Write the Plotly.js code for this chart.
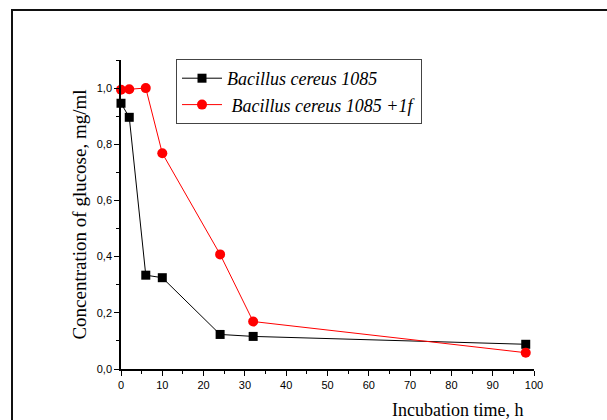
<!DOCTYPE html>
<html><head><meta charset="utf-8">
<script src="https://cdn.plot.ly/plotly-3.0.1.min.js"></script>
<style>html,body{margin:0;padding:0;background:#fff}#chart{width:607px;height:420px}</style>
</head><body><div id="chart"></div>
<script>
const timeA = [0, 2, 6, 10, 24, 32, 98];
const glucoseA = [0.946, 0.896, 0.334, 0.325, 0.123, 0.116, 0.088];
const timeB = [0, 2, 6, 10, 24, 32, 98];
const glucoseB = [0.994, 0.996, 1.0, 0.768, 0.408, 0.169, 0.058];
const nameA = 'Bacillus cereus 1085';
const nameB = ' Bacillus cereus 1085 +1f';
const xTitle = 'Incubation time, h';
const yTitle = 'Concentration of glucose, mg/ml';

const L = 121, R = 534, T = 60, B = 369, W = 607, H = 420;
const px = v => (v - L) / (R - L);
const py = v => (B - v) / (B - T);
const serif = 'Liberation Serif';

const traces = [
  {x: timeA, y: glucoseA, name: nameA, mode: 'lines+markers', cliponaxis: false,
   line: {color: '#000', width: 1}, marker: {symbol: 'square', size: 9, color: '#000'}},
  {x: timeB, y: glucoseB, name: nameB, mode: 'lines+markers', cliponaxis: false,
   line: {color: '#ff0000', width: 1}, marker: {symbol: 'circle', size: 10, color: '#ff0000'}}
];
const layout = {
  width: W, height: H, separators: ', ',
  margin: {l: L, r: W - R, t: T, b: H - B},
  paper_bgcolor: '#fff', plot_bgcolor: '#fff',
  showlegend: true,
  legend: {x: px(176), y: py(59), xanchor: 'left', yanchor: 'top',
    bgcolor: '#fff', bordercolor: '#444', borderwidth: 1, tracegroupgap: 0, itemwidth: 40,
    font: {family: serif, size: 18, color: '#000', style: 'italic'}},
  xaxis: {range: [0, 100], showgrid: false, zeroline: false, showline: true, linecolor: '#000', linewidth: 1.5,
    ticks: 'outside', ticklen: 5, tickwidth: 1, tickcolor: '#000', dtick: 10,
    minor: {dtick: 5, ticks: 'outside', ticklen: 3, tickcolor: '#000'},
    tickfont: {family: 'Liberation Sans', size: 11, color: '#000'}},
  yaxis: {range: [0, 1.1], showgrid: false, zeroline: false, showline: true, linecolor: '#000', linewidth: 1.5,
    ticks: 'outside', ticklen: 5, tickwidth: 1, tickcolor: '#000', dtick: 0.2, tickformat: '.1f',
    minor: {dtick: 0.1, ticks: 'outside', ticklen: 3, tickcolor: '#000'},
    tickfont: {family: 'Liberation Sans', size: 11, color: '#000'},
    title: {text: yTitle, standoff: 5, font: {family: serif, size: 19, color: '#000'}}},
  annotations: [
    {text: xTitle, xref: 'paper', yref: 'paper', x: px(457), y: py(410), xanchor: 'center', yanchor: 'middle',
     showarrow: false, font: {family: serif, size: 18, color: '#000'}}
  ],
  shapes: [
    {type: 'line', xref: 'paper', yref: 'paper', x0: px(11), x1: px(612), y0: py(10), y1: py(10), line: {color: '#111', width: 2}},
    {type: 'line', xref: 'paper', yref: 'paper', x0: px(12), x1: px(12), y0: py(9), y1: py(425), line: {color: '#111', width: 2}}
  ]
};
Plotly.newPlot('chart', traces, layout, {displayModeBar: false});
</script></body></html>
